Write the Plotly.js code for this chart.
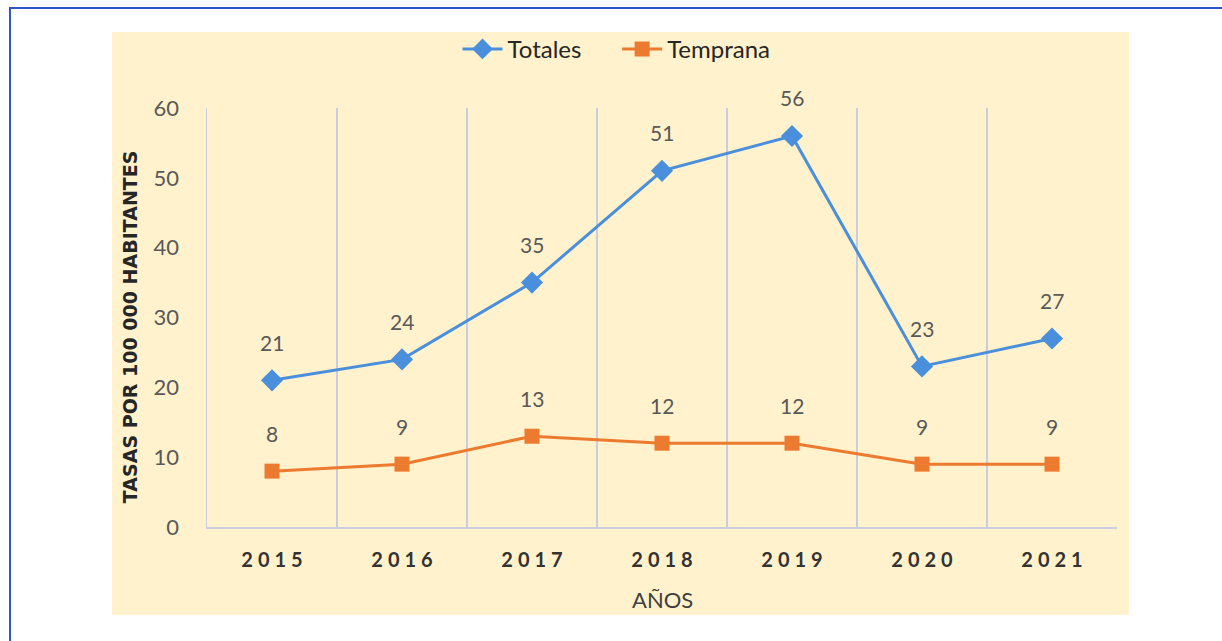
<!DOCTYPE html>
<html>
<head>
<meta charset="utf-8">
<script src="https://cdn.plot.ly/plotly-3.0.1.min.js"></script>
<style>
  html, body { margin: 0; padding: 0; background: #ffffff; width: 1222px; height: 641px; overflow: hidden; }
  #frame { position: absolute; left: 9px; top: 7px; width: 1213px; height: 634px;
           border-top: 2px solid #2f55c8; border-left: 2px solid #2f55c8; box-sizing: border-box; }
  #chart { position: absolute; left: 112px; top: 32px; width: 1017px; height: 583px; }
</style>
</head>
<body>
<div id="frame"></div>
<div id="chart"></div>
<script>
const years = ["2015", "2016", "2017", "2018", "2019", "2020", "2021"];
const totales = [21, 24, 35, 51, 56, 23, 27];
const temprana = [8, 9, 13, 12, 12, 9, 9];
const yTicks = [0, 10, 20, 30, 40, 50, 60];

const blue = "#4a8fdc";
const orange = "#ec7a2f";
const FONT = "Lato, 'Open Sans', sans-serif";
const labelFont = { family: FONT, size: 21, color: "#595959" };

const traces = [
  { x: years, y: totales, name: "Totales\u00a0\u00a0\u00a0\u00a0\u00a0", type: "scatter", mode: "lines+markers",
    line: { color: blue, width: 3 }, marker: { symbol: "diamond", size: 17, color: blue },
    hoverinfo: "skip" },
  { x: years, y: temprana, name: "Temprana", type: "scatter", mode: "lines+markers",
    line: { color: orange, width: 3 }, marker: { symbol: "square", size: 15, color: orange },
    hoverinfo: "skip" }
];

const annotations = [];
years.forEach((yr, i) => {
  annotations.push({ x: i, y: totales[i], xref: "x", yref: "y", text: String(totales[i]),
    showarrow: false, yshift: 38, font: labelFont });
  annotations.push({ x: i, y: temprana[i], xref: "x", yref: "y", text: String(temprana[i]),
    showarrow: false, yshift: 38, font: labelFont });
});
annotations.push({ xref: "paper", yref: "paper", x: -0.0846, y: 0.477, xanchor: "center", yanchor: "middle",
  text: "<b>TASAS POR 100 000 HABITANTES</b>",
  textangle: -90, showarrow: false, font: { family: "'DejaVu Sans', sans-serif", size: 19, color: "#262626" } });
annotations.push({ xref: "paper", yref: "paper", x: 0.5, y: -0.174, xanchor: "center", yanchor: "middle",
  text: "AÑOS", showarrow: false, font: { family: FONT, size: 22, color: "#404040" } });

const layout = {
  width: 1017, height: 583,
  paper_bgcolor: "#fff2cc", plot_bgcolor: "#fff2cc",
  margin: { l: 95, r: 12, t: 76, b: 88, autoexpand: false },
  showlegend: true,
  legend: { orientation: "h", x: 0.45, xanchor: "center", y: 1.14, yanchor: "middle",
    font: { family: FONT, size: 24, color: "#262626" },
    bgcolor: "rgba(0,0,0,0)", itemwidth: 40, tracegroupgap: 0 },
  xaxis: {
    type: "category", tickson: "boundaries",
    tickvals: years, ticktext: years.map(s => s.split("").join("\u2009\u2009")),
    showgrid: true, gridcolor: "#c8cde0", gridwidth: 1.3,
    showline: true, linecolor: "#c8cde0", linewidth: 1.5,
    ticks: "", ticklabelstandoff: 14, range: [-0.5, 6.5], fixedrange: true,
    tickfont: { family: FONT, size: 20, color: "#333333", weight: "bold" }
  },
  yaxis: {
    range: [0, 60], tickvals: yTicks, showgrid: false, zeroline: false,
    showline: true, linecolor: "#c8cde0", linewidth: 1.5,
    ticks: "", ticklabelstandoff: 22, fixedrange: true,
    tickfont: { family: FONT, size: 22, color: "#595959" }
  },
  annotations: annotations
};

Plotly.newPlot("chart", traces, layout, { staticPlot: true, displayModeBar: false });
</script>
</body>
</html>
